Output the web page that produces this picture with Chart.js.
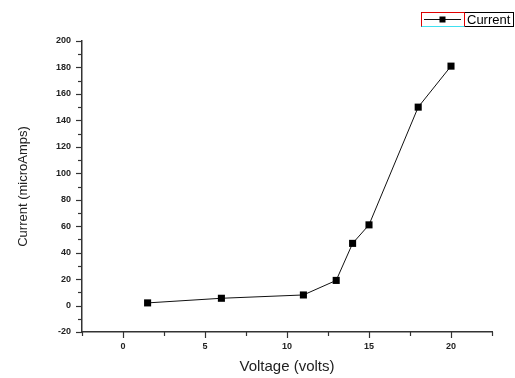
<!DOCTYPE html>
<html>
<head>
<meta charset="utf-8">
<script src="https://cdn.jsdelivr.net/npm/chart.js@4/dist/chart.umd.min.js"></script>
<style>
html,body{margin:0;padding:0;background:#fff;}
#wrap{width:515px;height:378px;position:relative;}
</style>
</head>
<body>
<div id="wrap"><canvas id="c" width="515" height="378"></canvas></div>
<script>
// Data
const voltage = [1.5, 6, 11, 13, 14, 15, 18, 20];
const current = [2, 5.5, 8, 19, 47, 61, 150, 181];
const seriesName = 'Current';
const xTitle = 'Voltage (volts)';
const yTitle = 'Current (microAmps)';
const xTickValues = [0, 5, 10, 15, 20];
const yTickValues = [-20, 0, 20, 40, 60, 80, 100, 120, 140, 160, 180, 200];

const FONT = "'Liberation Sans', Arial, sans-serif";
const AXIS_COLOR = '#333';

const tickPlugin = {
  id: 'originTicks',
  afterDraw(chart) {
    const ctx = chart.ctx;
    const xs = chart.scales.x, ys = chart.scales.y;
    const area = chart.chartArea;
    ctx.save();
    ctx.strokeStyle = AXIS_COLOR;
    ctx.lineWidth = 1.2;
    // x ticks
    for (let v = xs.min; v <= xs.max + 1e-9; v += 2.5) {
      const px = Math.round(xs.getPixelForValue(v)) + 0.5;
      const major = Math.abs(v % 5) < 1e-9;
      ctx.beginPath();
      ctx.moveTo(px, area.bottom);
      ctx.lineTo(px, area.bottom + (major ? 6 : 4));
      ctx.stroke();
    }
    // y ticks
    for (let v = ys.min; v <= ys.max + 1e-9; v += 10) {
      const py = Math.round(ys.getPixelForValue(v)) + 0.5;
      const major = Math.abs(v % 20) < 1e-9;
      ctx.beginPath();
      ctx.moveTo(area.left, py);
      ctx.lineTo(area.left - (major ? 6 : 4), py);
      ctx.stroke();
    }
    // legend box
    const lx = 421, ly = 12, lw = 92, lh = 14, sw = 43;
    ctx.lineWidth = 1;
    ctx.strokeStyle = '#000';
    ctx.strokeRect(lx + 0.5, ly + 0.5, lw, lh);
    ctx.strokeStyle = '#e00000';
    ctx.beginPath();
    ctx.moveTo(lx + 0.5, ly + lh + 0.5);
    ctx.lineTo(lx + 0.5, ly + 0.5);
    ctx.lineTo(lx + sw + 0.5, ly + 0.5);
    ctx.lineTo(lx + sw + 0.5, ly + lh + 0.5);
    ctx.stroke();
    ctx.strokeStyle = '#40e0f0';
    ctx.beginPath();
    ctx.moveTo(lx + 0.5, ly + lh + 0.5);
    ctx.lineTo(lx + sw + 0.5, ly + lh + 0.5);
    ctx.stroke();
    // symbol
    ctx.strokeStyle = '#111';
    ctx.beginPath();
    ctx.moveTo(lx + 3, ly + 7.5);
    ctx.lineTo(lx + sw - 3, ly + 7.5);
    ctx.stroke();
    ctx.fillStyle = '#000';
    ctx.fillRect(lx + sw / 2 - 3, ly + 4.5, 6, 6);
    ctx.fillStyle = '#000';
    ctx.font = '13px ' + FONT;
    ctx.textBaseline = 'middle';
    ctx.textAlign = 'left';
    ctx.fillText(seriesName, lx + sw + 3, ly + 8);
    ctx.restore();
  }
};

new Chart(document.getElementById('c'), {
  type: 'line',
  data: {
    datasets: [{
      label: seriesName,
      data: voltage.map((v, i) => ({x: v, y: current[i]})),
      borderColor: '#111',
      borderWidth: 1,
      backgroundColor: '#000',
      pointStyle: 'rect',
      pointRadius: 5,
      pointBorderWidth: 0,
      pointBackgroundColor: '#000',
      pointBorderColor: '#000',
      tension: 0
    }]
  },
  options: {
    responsive: false,
    animation: false,
    devicePixelRatio: 1,
    layout: {padding: {top: 41, right: 23, left: 0, bottom: 0}},
    plugins: {legend: {display: false}, tooltip: {enabled: false}},
    scales: {
      x: {
        type: 'linear',
        min: -2.5, max: 22.5,
        afterBuildTicks(scale) { scale.ticks = xTickValues.map(v => ({value: v})); },
        afterFit(scale) { scale.height = 46; },
        grid: {display: true, drawOnChartArea: false, drawTicks: false},
        border: {display: true, color: AXIS_COLOR, width: 1.5},
        ticks: {
          padding: 9,
          color: '#222',
          font: {family: FONT, size: 9, weight: 'bold'},
          maxRotation: 0,
          callback: v => String(v)
        },
        title: {
          display: true, text: xTitle, color: '#222',
          font: {family: FONT, size: 15},
          padding: {top: 0, bottom: 2}
        }
      },
      y: {
        type: 'linear',
        min: -20, max: 200,
        afterBuildTicks(scale) { scale.ticks = yTickValues.map(v => ({value: v})); },
        afterFit(scale) { scale.width = 82; },
        grid: {display: true, drawOnChartArea: false, drawTicks: false},
        border: {display: true, color: AXIS_COLOR, width: 1.5},
        ticks: {
          padding: 11,
          color: '#222',
          font: {family: FONT, size: 9, weight: 'bold'},
          callback: v => String(v)
        },
        title: {
          display: true, text: yTitle, color: '#222',
          font: {family: FONT, size: 13},
          padding: {top: 16, bottom: 0}
        }
      }
    }
  },
  plugins: [tickPlugin]
});
</script>
</body>
</html>
